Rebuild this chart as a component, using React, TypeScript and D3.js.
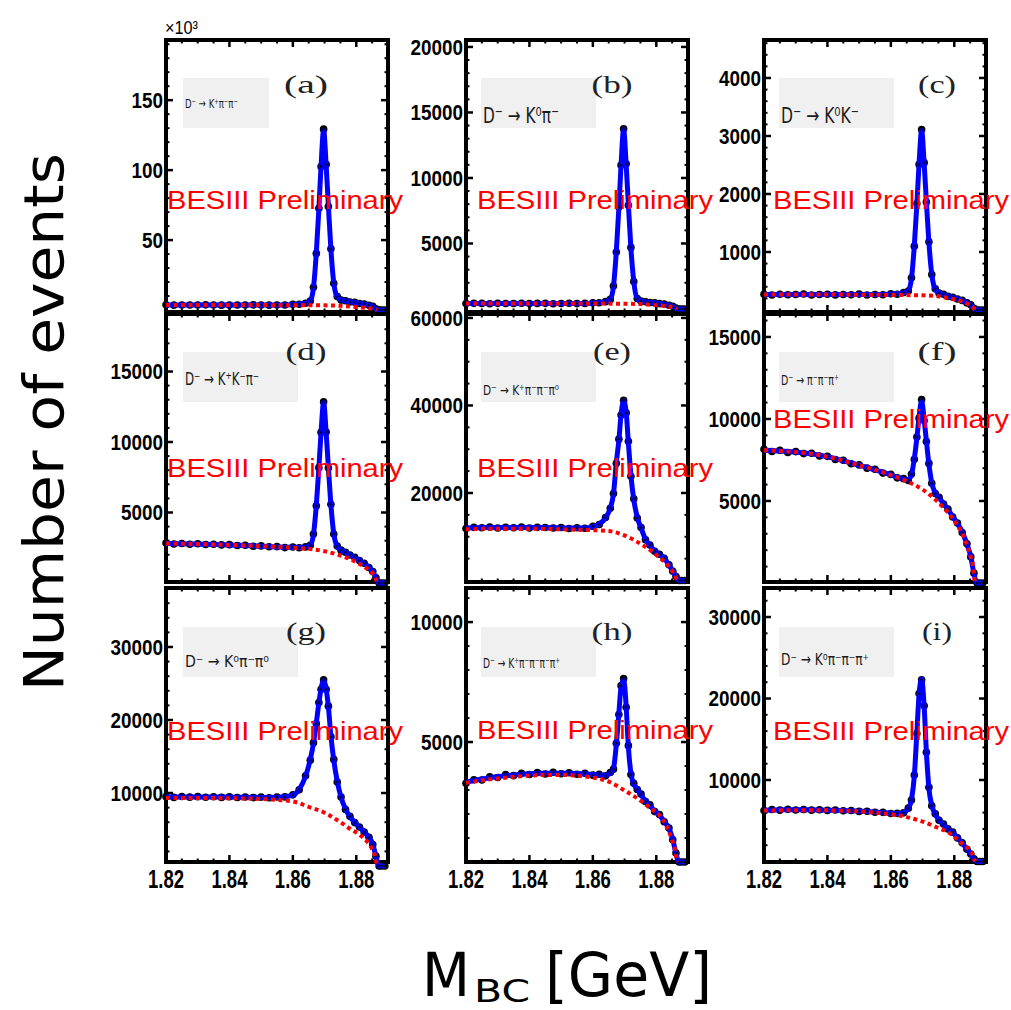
import React from "react";
import * as d3 from "d3";

// M_BC bin centres (GeV) shared by the data points and the fit curves
const massBins = [1.82, 1.8225, 1.825, 1.8275, 1.83, 1.8325, 1.835, 1.8375, 1.84, 1.8425, 1.845, 1.8475, 1.85, 1.8525, 1.855, 1.8575, 1.86, 1.862, 1.864, 1.8655, 1.8665, 1.8674, 1.8682, 1.8689, 1.8697, 1.8705, 1.8712, 1.872, 1.8729, 1.874, 1.8752, 1.8766, 1.878, 1.8795, 1.881, 1.8825, 1.884, 1.8852, 1.8862, 1.8872, 1.888, 1.889];

// sampling points of the background (ARGUS-like) shape
const bgMass = [1.82, 1.825, 1.83, 1.835, 1.84, 1.845, 1.85, 1.855, 1.86, 1.865, 1.87, 1.875, 1.878, 1.881, 1.883, 1.885, 1.886, 1.8865];

// (a) D- -> K+ pi- pi-
const dataA = [3700, 3500, 3650, 3600, 3550, 3700, 3600, 3500, 3650, 3600, 3550, 3700, 3600, 3500, 3650, 3600, 4100, 4100, 4900, 6400, 16300, 40500, 72800, 102600, 129300, 104100, 74000, 43800, 19200, 9600, 7100, 6600, 5800, 5500, 4700, 4300, 3400, 2600, 800, 100, 0, 0];
const fitA = [3600, 3600, 3600, 3600, 3600, 3600, 3600, 3600, 3600, 3600, 3600, 3600, 3600, 3600, 3600, 3600, 4000, 4200, 4800, 6600, 16000, 41000, 72150, 103400, 128400, 103400, 74650, 43300, 19450, 9400, 7300, 6500, 5900, 5400, 4800, 4200, 3500, 2500, 700, 0, 0, 0];
const bgA = [3600, 3600, 3600, 3600, 3600, 3600, 3550, 3500, 3500, 3450, 3350, 3000, 2600, 2000, 1500, 900, 450, 0];

// (b) D- -> K0 pi-
const dataB = [410, 430, 425, 405, 430, 415, 420, 440, 410, 425, 430, 405, 420, 435, 410, 425, 470, 480, 560, 730, 1760, 4350, 7780, 10980, 13760, 11090, 7920, 4700, 2090, 800, 600, 555, 490, 470, 410, 380, 290, 210, 70, 0, 0, 0];
const fitB = [420, 420, 420, 420, 420, 420, 420, 420, 420, 420, 420, 420, 420, 420, 420, 420, 460, 486, 553, 748, 1740, 4400, 7720, 11040, 13700, 11040, 7980, 4650, 2120, 780, 615, 540, 500, 460, 420, 370, 300, 200, 60, 0, 0, 0];
const bgB = [420, 420, 420, 420, 420, 420, 420, 418, 415, 410, 400, 375, 330, 280, 220, 140, 80, 0];

// (c) D- -> K0 K-
const dataC = [270, 258, 272, 262, 268, 275, 259, 266, 271, 260, 268, 263, 274, 259, 267, 262, 280, 272, 300, 325, 555, 1100, 1835, 2510, 3110, 2540, 1860, 1175, 610, 365, 290, 270, 235, 220, 188, 165, 122, 90, 30, 0, 0, 0];
const fitC = [265, 265, 265, 265, 265, 265, 265, 265, 265, 265, 265, 265, 265, 265, 265, 265, 274, 279, 293, 333, 544, 1112, 1820, 2528, 3095, 2525, 1874, 1161, 619, 355, 295, 265, 240, 216, 193, 160, 127, 85, 28, 0, 0, 0];
const bgC = [265, 265, 265, 265, 265, 265, 263, 261, 259, 256, 252, 235, 205, 170, 135, 80, 40, 0];

// (d) D- -> K+ K- pi-
const dataD = [2830, 2770, 2800, 2750, 2780, 2730, 2750, 2700, 2720, 2660, 2680, 2610, 2630, 2570, 2580, 2510, 2550, 2500, 2560, 2670, 3480, 5480, 8180, 10680, 12850, 10710, 8170, 5590, 3470, 2620, 2330, 2180, 1980, 1820, 1590, 1400, 1090, 820, 360, 0, 0, 0];
const fitD = [2800, 2790, 2780, 2770, 2760, 2745, 2730, 2715, 2700, 2680, 2660, 2635, 2610, 2585, 2560, 2530, 2532, 2523, 2545, 2688, 3452, 5526, 8126, 10726, 12800, 10666, 8216, 5546, 3498, 2596, 2348, 2166, 1995, 1804, 1602, 1381, 1110, 808, 353, 0, 0, 0];
const bgD = [2800, 2780, 2760, 2730, 2700, 2660, 2610, 2560, 2500, 2420, 2250, 1950, 1700, 1350, 1080, 720, 400, 0];

// (e) D- -> K+ pi- pi- pi0
const dataE = [11900, 12150, 12050, 12200, 12000, 12150, 12050, 12200, 12000, 12150, 12100, 12000, 12100, 11900, 12050, 11950, 12400, 12800, 14400, 16500, 19900, 26800, 32300, 37800, 41200, 38300, 31800, 23800, 18700, 14300, 12100, 9300, 8100, 6700, 6000, 5100, 3600, 2100, 900, 0, 0, 0];
const fitE = [12000, 12050, 12100, 12100, 12100, 12100, 12100, 12100, 12100, 12100, 12100, 12050, 12000, 12000, 12000, 12000, 12300, 12900, 14300, 16600, 19800, 27000, 32000, 38000, 41000, 38500, 31500, 24000, 18500, 14500, 12000, 9400, 8000, 6800, 5900, 5200, 3500, 2200, 800, 0, 0, 0];
const bgE = [11700, 11800, 11800, 11800, 11800, 11800, 11700, 11600, 11500, 11300, 10300, 8400, 7000, 5200, 4000, 2200, 1000, 0];

// (f) D- -> pi- pi- pi+
const dataF = [8150, 8020, 8090, 7960, 8010, 7890, 7910, 7740, 7720, 7530, 7480, 7270, 7200, 7000, 6930, 6700, 6620, 6410, 6360, 6250, 6640, 7540, 8900, 10050, 11180, 9900, 8620, 7290, 6080, 5460, 5220, 4820, 4510, 4020, 3660, 3080, 2390, 1590, 600, 0, 0, 0];
const fitF = [8100, 8075, 8050, 8015, 7980, 7930, 7880, 7790, 7700, 7575, 7450, 7315, 7180, 7040, 6900, 6740, 6596, 6456, 6333, 6292, 6610, 7590, 8845, 10110, 11100, 9960, 8671, 7246, 6109, 5495, 5186, 4859, 4478, 4058, 3627, 3117, 2356, 1620, 566, 0, 0, 0];
const bgF = [8100, 8050, 7980, 7880, 7700, 7450, 7180, 6900, 6580, 6200, 5700, 4900, 4300, 3500, 2800, 1700, 900, 0];

// (g) D- -> K0 pi- pi0
const dataG = [9500, 9400, 9520, 9430, 9500, 9410, 9490, 9400, 9480, 9390, 9460, 9370, 9440, 9360, 9460, 9470, 9750, 10450, 12350, 14500, 16900, 19500, 22400, 24200, 25500, 24200, 21900, 17700, 14600, 11500, 9450, 7750, 6800, 5950, 5350, 4650, 3950, 2950, 1350, 0, 0, 0];
const fitG = [9450, 9460, 9470, 9470, 9470, 9470, 9460, 9450, 9440, 9430, 9420, 9410, 9400, 9400, 9420, 9500, 9700, 10500, 12300, 14600, 16800, 19600, 22300, 24300, 25400, 24300, 21800, 17800, 14500, 11600, 9400, 7800, 6750, 6000, 5300, 4700, 3900, 3000, 1300, 0, 0, 0];
const bgG = [9300, 9300, 9300, 9300, 9280, 9250, 9180, 9050, 8850, 8100, 7300, 6000, 5100, 4300, 3550, 2300, 1200, 0];

// (h) D- -> K+ pi- pi- pi- pi+
const dataH = [3280, 3430, 3420, 3550, 3520, 3640, 3600, 3700, 3650, 3730, 3670, 3740, 3680, 3720, 3660, 3700, 3620, 3660, 3590, 3730, 3870, 4950, 6150, 7350, 7650, 6450, 4850, 3650, 3280, 3020, 2830, 2520, 2380, 2100, 1980, 1680, 1420, 930, 370, 0, 0, 0];
const fitH = [3330, 3400, 3460, 3510, 3560, 3600, 3630, 3660, 3680, 3690, 3700, 3700, 3700, 3700, 3690, 3670, 3650, 3630, 3620, 3700, 3900, 4900, 6200, 7300, 7600, 6500, 4800, 3700, 3250, 3050, 2800, 2550, 2350, 2130, 1950, 1700, 1400, 950, 350, 0, 0, 0];
const bgH = [3300, 3400, 3480, 3550, 3600, 3630, 3630, 3600, 3520, 3350, 2980, 2560, 2250, 1950, 1550, 900, 450, 0];

// (i) D- -> K0 pi- pi- pi+
const dataI = [6250, 6380, 6300, 6400, 6320, 6390, 6300, 6360, 6270, 6320, 6220, 6260, 6150, 6170, 6050, 6030, 5890, 5910, 5970, 6550, 7550, 10600, 15700, 20600, 22300, 19100, 13400, 9100, 6850, 5850, 5050, 4600, 4000, 3600, 2900, 2300, 1500, 930, 320, 0, 0, 0];
const fitI = [6300, 6320, 6340, 6350, 6350, 6350, 6340, 6320, 6300, 6280, 6250, 6220, 6180, 6130, 6080, 6000, 5920, 5880, 6000, 6500, 7600, 10500, 15800, 20500, 22400, 19000, 13500, 9000, 6900, 5800, 5100, 4550, 4050, 3550, 2950, 2250, 1550, 900, 300, 0, 0, 0];
const bgI = [6250, 6280, 6300, 6300, 6280, 6230, 6150, 6000, 5800, 5450, 4900, 4100, 3600, 2700, 2000, 1300, 650, 0];

const dataSets = [dataA, dataB, dataC, dataD, dataE, dataF, dataG, dataH, dataI];
const fitSets = [fitA, fitB, fitC, fitD, fitE, fitF, fitG, fitH, fitI];
const bgSets = [bgA, bgB, bgC, bgD, bgE, bgF, bgG, bgH, bgI];

const panelTags = ["(a)", "(b)", "(c)", "(d)", "(e)", "(f)", "(g)", "(h)", "(i)"];

// decay chains, charges written with superscript characters
const decayModes = [
  "D\u207b \u2192 K\u207a\u03c0\u207b\u03c0\u207b",
  "D\u207b \u2192 K\u2070\u03c0\u207b",
  "D\u207b \u2192 K\u2070K\u207b",
  "D\u207b \u2192 K\u207aK\u207b\u03c0\u207b",
  "D\u207b \u2192 K\u207a\u03c0\u207b\u03c0\u207b\u03c0\u2070",
  "D\u207b \u2192 \u03c0\u207b\u03c0\u207b\u03c0\u207a",
  "D\u207b \u2192 K\u2070\u03c0\u207b\u03c0\u2070",
  "D\u207b \u2192 K\u207a\u03c0\u207b\u03c0\u207b\u03c0\u207b\u03c0\u207a",
  "D\u207b \u2192 K\u2070\u03c0\u207b\u03c0\u207b\u03c0\u207a",
];

// vertical axis ranges and ticks
const yLow = [-1400, -230, -35, 70, -340, 60, 550, 0, -60];
const yHigh = [193000, 20530, 4655, 19080, 60900, 16400, 38080, 11420, 33560];
const yTickValues = [
  [50000, 100000, 150000],
  [5000, 10000, 15000, 20000],
  [1000, 2000, 3000, 4000],
  [5000, 10000, 15000],
  [20000, 40000, 60000],
  [5000, 10000, 15000],
  [10000, 20000, 30000],
  [5000, 10000],
  [10000, 20000, 30000],
];
const yMinorStep = [10000, 1000, 200, 1000, 5000, 1000, 2000, 1000, 2000];
const yTickDivisor = [1000, 1, 1, 1, 1, 1, 1, 1, 1];
const xTickValues = [1.82, 1.84, 1.86, 1.88];
const xMinorStep = 0.005;
const massRange = [1.82, 1.89];

// ---- layout ----
const colLeft = [166, 466, 764];
const colWidth = 222;
const rowTop = [40, 314, 588];
const rowHeight = [272, 268, 274];
const tagCenterX = [306, 612, 937];
const tagBaseline = [93, 360, 640];
const tagWidth = [44, 41, 38, 41, 38, 39, 40, 41, 30];
const boxX = [183, 481, 779];
const boxY = [78, 352, 627];
const boxW = [86, 115, 115, 115, 115, 115, 115, 115, 115];
const decayFont = [13, 22, 22, 17, 14, 14, 16, 14, 16];
const decayWidth = [53, 76, 78, 74, 76, 58, 84, 77, 88];
const decayDy = [30, 45, 45, 33, 43, 33, 40, 41, 38];
const stampX = [167, 477, 773];
const stampBaseline = [209, 209, 209, 477, 477, 428, 740, 739, 740];

const SANS = "'Liberation Sans', Arial, Helvetica, sans-serif";
const ROUND = "'DejaVu Sans', 'Noto Sans', sans-serif";

function DecayLabel({ i }: { i: number }) {
  const col = i % 3;
  const row = Math.floor(i / 3);
  return (
    <g>
      <rect x={boxX[col]} y={boxY[row]} width={boxW[i]} height={50} fill="#f0f0f0" />
      <text
        x={boxX[col] + 2}
        y={boxY[row] + decayDy[i]}
        fontFamily="'DejaVu Sans Condensed', 'DejaVu Sans', sans-serif"
        fontSize={decayFont[i]}
        fill="#1a1a1a"
        textLength={decayWidth[i]}
        lengthAdjust="spacingAndGlyphs"
      >
        {decayModes[i]}
      </text>
    </g>
  );
}

function Panel({ i }: { i: number }) {
  const col = i % 3;
  const row = Math.floor(i / 3);
  const x0 = colLeft[col];
  const y0 = rowTop[row];
  const w = colWidth;
  const h = rowHeight[row];
  const x = d3.scaleLinear().domain(massRange).range([x0, x0 + w]);
  const y = d3.scaleLinear().domain([yLow[i], yHigh[i]]).range([y0 + h, y0]);

  const fitPath = d3
    .line<number>()
    .x((_, k) => x(massBins[k]))
    .y((v) => y(v))
    .curve(d3.curveMonotoneX)(fitSets[i]);
  const bgPath = d3
    .line<number>()
    .x((_, k) => x(bgMass[k]))
    .y((v) => y(v))
    .curve(d3.curveMonotoneX)(bgSets[i]);

  const majors = yTickValues[i];
  const minors = d3
    .range(yMinorStep[i], yHigh[i], yMinorStep[i])
    .filter((v) => !majors.some((m) => Math.abs(m - v) < 1e-6));
  const xMinors = d3
    .range(massRange[0] + xMinorStep, massRange[1], xMinorStep)
    .filter((v) => !xTickValues.some((m) => Math.abs(m - v) < 1e-6));

  return (
    <g>
      <DecayLabel i={i} />
      <rect x={x0} y={y0} width={w} height={h} fill="none" stroke="#000" strokeWidth={4} />
      {/* y ticks, both sides, pointing inward */}
      {majors.map((t) => (
        <g key={`ym${t}`} stroke="#000" strokeWidth={2.5}>
          <line x1={x0} x2={x0 + 7} y1={y(t)} y2={y(t)} />
          <line x1={x0 + w} x2={x0 + w - 7} y1={y(t)} y2={y(t)} />
        </g>
      ))}
      {minors.map((t) => (
        <g key={`yn${t}`} stroke="#000" strokeWidth={2}>
          <line x1={x0} x2={x0 + 3.5} y1={y(t)} y2={y(t)} />
          <line x1={x0 + w} x2={x0 + w - 3.5} y1={y(t)} y2={y(t)} />
        </g>
      ))}
      {/* x ticks, top and bottom */}
      {xTickValues.map((t) => (
        <g key={`xm${t}`} stroke="#000" strokeWidth={2.5}>
          <line x1={x(t)} x2={x(t)} y1={y0 + h} y2={y0 + h - 7} />
          <line x1={x(t)} x2={x(t)} y1={y0} y2={y0 + 7} />
        </g>
      ))}
      {xMinors.map((t) => (
        <g key={`xn${t}`} stroke="#000" strokeWidth={2}>
          <line x1={x(t)} x2={x(t)} y1={y0 + h} y2={y0 + h - 3.5} />
          <line x1={x(t)} x2={x(t)} y1={y0} y2={y0 + 3.5} />
        </g>
      ))}
      {/* y tick labels */}
      {majors.map((t) => {
        const s = String(t / yTickDivisor[i]);
        return (
          <text
            key={`yl${t}`}
            x={x0 - 3}
            y={y(t)}
            dy="0.36em"
            textAnchor="end"
            fontFamily={SANS}
            fontWeight="bold"
            fontSize={22}
            textLength={s.length * 10.5}
            lengthAdjust="spacingAndGlyphs"
            fill="#000"
          >
            {s}
          </text>
        );
      })}
      {row === 2 &&
        xTickValues.map((t) => (
          <text
            key={`xl${t}`}
            x={x(t)}
            y={888}
            textAnchor="middle"
            fontFamily={SANS}
            fontWeight="bold"
            fontSize={25}
            textLength={36}
            lengthAdjust="spacingAndGlyphs"
            fill="#000"
          >
            {t.toFixed(2)}
          </text>
        ))}
      {/* data points */}
      {dataSets[i].map((v, k) => (
        <circle key={`d${k}`} cx={x(massBins[k])} cy={y(v)} r={3.8} fill="#000" />
      ))}
      {/* total fit */}
      <path d={fitPath ?? ""} fill="none" stroke="#0000ff" strokeWidth={5} strokeLinejoin="round" />
      {dataSets[i].map((v, k) => (
        <circle key={`c${k}`} cx={x(massBins[k])} cy={y(v)} r={1.2} fill="#000022" />
      ))}
      {/* background component */}
      <path d={bgPath ?? ""} fill="none" stroke="#ff0000" strokeWidth={4} strokeDasharray="4 3.5" />
      <text
        x={tagCenterX[col]}
        y={tagBaseline[row]}
        textAnchor="middle"
        fontFamily="'Liberation Serif', 'DejaVu Serif', serif"
        fontSize={25}
        textLength={tagWidth[i]}
        lengthAdjust="spacingAndGlyphs"
        fill="#222"
      >
        {panelTags[i]}
      </text>
    </g>
  );
}

export default function App() {
  const ids = d3.range(9);
  return (
    <svg
      width={1011}
      height={1010}
      style={{ position: "absolute", left: 0, top: 0, background: "#fff" }}
    >
      <rect width={1011} height={1010} fill="#fff" />
      {ids.map((i) => (
        <Panel key={i} i={i} />
      ))}
      {/* scale factor of panel (a) */}
      <text x={165} y={34} fontFamily={SANS} fontSize={18} textLength={33} lengthAdjust="spacingAndGlyphs">
        {"\u00d710\u00b3"}
      </text>
      {ids.map((i) => (
        <text
          key={`st${i}`}
          x={stampX[i % 3]}
          y={stampBaseline[i]}
          fontFamily={SANS}
          fontSize={26}
          textLength={236}
          lengthAdjust="spacingAndGlyphs"
          fill="#ff0000"
        >
          BESIII Preliminary
        </text>
      ))}
      {/* axis titles */}
      <text
        transform="translate(63,422) rotate(-90)"
        textAnchor="middle"
        fontFamily={ROUND}
        fontSize={55}
        textLength={538}
        lengthAdjust="spacingAndGlyphs"
        fill="#000"
      >
        Number of events
      </text>
      <text x={422} y={996} fontFamily={ROUND} fontSize={60} textLength={48} lengthAdjust="spacingAndGlyphs">
        M
      </text>
      <text x={474} y={1002} fontFamily={ROUND} fontSize={32} textLength={56} lengthAdjust="spacingAndGlyphs">
        BC
      </text>
      <text x={545} y={996} fontFamily={ROUND} fontSize={60} textLength={167} lengthAdjust="spacingAndGlyphs">
        [GeV]
      </text>
    </svg>
  );
}
